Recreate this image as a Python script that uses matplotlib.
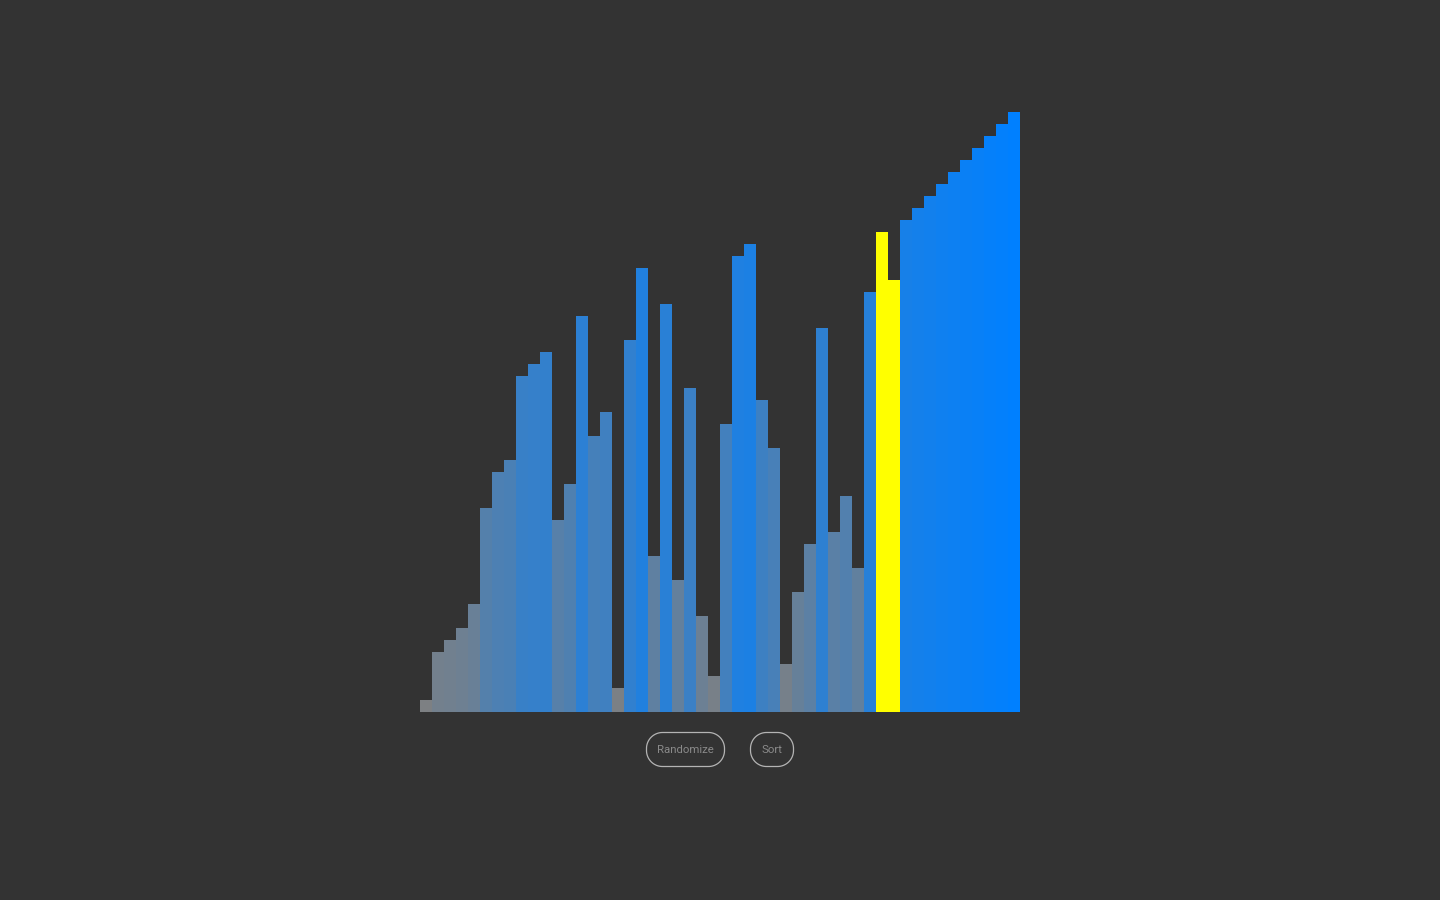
import matplotlib
matplotlib.use("Agg")
import matplotlib.pyplot as plt
from matplotlib.patches import Polygon
import numpy as np

values = [1, 5, 6, 7, 9, 17, 20, 21, 28, 29, 30, 16, 19, 33, 23, 25, 2, 31, 37, 13,
          34, 11, 27, 8, 3, 24, 38, 39, 26, 22, 4, 10, 14, 32, 15, 18, 12, 35, 40, 36,
          41, 42, 43, 44, 45, 46, 47, 48, 49, 50]
highlighted = [38, 39]
buttons = ["Randomize", "Sort"]

bg = "#333333"
low = np.array([128, 128, 128]) / 255
high = np.array([0, 128, 255]) / 255
n = len(values)
vmax = max(values)

def color_for(v):
    t = v / vmax
    return tuple(low * (1 - t) + high * t)

colors = ["#ffff00" if i in highlighted else color_for(v) for i, v in enumerate(values)]

fig = plt.figure(figsize=(14.4, 9), dpi=100, facecolor=bg)
ax = fig.add_axes([420 / 1440, (900 - 712) / 900, 600 / 1440, 600 / 900])
ax.set_facecolor(bg)
ax.bar(np.arange(n), values, width=1.0, align="edge", color=colors, linewidth=0)
ax.set_xlim(0, n)
ax.set_ylim(0, vmax)
ax.axis("off")

# buttons in pixel coordinates (y measured from bottom)
bax = fig.add_axes([0, 0, 1, 1], zorder=5)
bax.set_xlim(0, 1440)
bax.set_ylim(0, 900)
bax.axis("off")
bax.patch.set_alpha(0)


def pill(x, y, w, h, r):
    pts = []
    corners = [(x + w - r, y + h - r, 0), (x + r, y + h - r, 90),
               (x + r, y + r, 180), (x + w - r, y + r, 270)]
    for cx, cy, a0 in corners:
        th = np.radians(np.linspace(a0, a0 + 90, 20))
        pts.extend(zip(cx + r * np.cos(th), cy + r * np.sin(th)))
    return np.array(pts)


btn_boxes = [(646.5, 732.5, 78, 34), (750.5, 732.5, 43, 34)]
for label, (x, y, w, h) in zip(buttons, btn_boxes):
    yb = 900 - y - h
    poly = Polygon(pill(x, yb, w, h, 16), closed=True, fill=False,
                   edgecolor="#b4b4b4", linewidth=0.9)
    bax.add_patch(poly)
    bax.text(x + w / 2, yb + h / 2 - 0.5, label, ha="center", va="center",
             fontsize=8.2, color="#8a8a8a", family="Roboto")

fig.savefig("out.png", dpi=100, facecolor=bg)
